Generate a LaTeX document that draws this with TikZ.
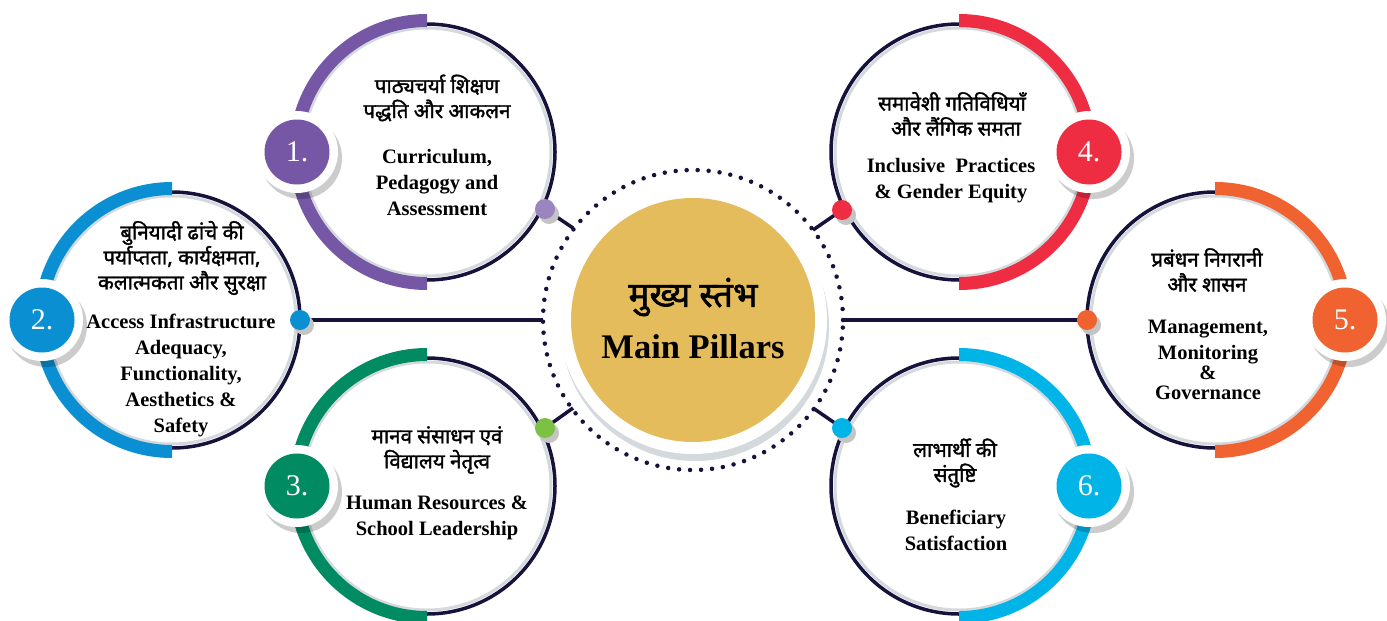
\documentclass[tikz,border=0pt]{standalone}
\usepackage{fontspec}
\setmainfont{Liberation Serif}
\newfontfamily\hi[Script=Devanagari, FakeBold=1.6]{Noto Sans}
\definecolor{navy}{HTML}{17123B}
\definecolor{ringgray}{HTML}{D4D9DE}
\definecolor{cpurple}{HTML}{7557A5}
\definecolor{dpurple}{HTML}{9A85C0}
\definecolor{cblue}{HTML}{0B8FD3}
\definecolor{cgreen}{HTML}{008B63}
\definecolor{dgreen}{HTML}{7CC143}
\definecolor{cred}{HTML}{EE2D43}
\definecolor{corange}{HTML}{F06230}
\definecolor{ccyan}{HTML}{00B4E8}
\definecolor{cgold}{HTML}{E5BC5C}
\definecolor{shadowgray}{HTML}{C4C4C4}
\tikzset{
  ringline/.style={circle, inner sep=0pt, minimum size=256pt, draw=navy, line width=3.5pt},
  conn/.style={draw=navy, line width=3.5pt},
  dotnode/.style={circle, inner sep=0pt, minimum size=20pt, fill=#1},
  hitext/.style={font=\hi\fontsize{20.5}{25}\selectfont, align=center, inner sep=0pt},
  entext/.style={font=\bfseries\fontsize{20.5}{26}\selectfont, align=center, inner sep=0pt},
  numtext/.style={font=\fontsize{30}{30}\selectfont, text=white, inner sep=0pt},
}
% #1 name, #2 cx, #3 cy, #4 colour, #5 side (1 left, -1 right), #6 number
\newcommand\pillarring[6]{%
  \draw[ringgray, line width=3pt] (#2,#3) circle (124);
  \node[ringline] (#1) at (#2,#3) {};
  \begin{scope}
    \clip (#2,#3-150) rectangle (#2-#5*150,#3+150);
    \draw[#4, line width=13pt] (#2,#3) circle (131.5);
  \end{scope}
  \fill[black, opacity=0.2] (#2-#5*130+4,#3+6) circle (41);
  \node[circle, fill=white, inner sep=0pt, minimum size=82pt] (#1w) at (#2-#5*130,#3) {};
  \node[circle, fill=#4, inner sep=0pt, minimum size=65pt] (#1b) at (#2-#5*130,#3) {};
  \node[numtext] (#1n) at (#2-#5*130,#3) {#6.};
}
\newcommand\pillardot[4]{%
  \fill[shadowgray] (#2+4,#3+5) circle (10);
  \node[dotnode=#4] (#1) at (#2,#3) {};
}
\begin{document}
\begin{tikzpicture}[x=1pt, y=-1pt]
\useasboundingbox (0,0) rectangle (1387,621);
\fill[white] (0,0) rectangle (1387,621);

% centre hub
\fill[ringgray] (695,327) circle (134);
\fill[white] (693,320) circle (134);
\node[circle, fill=cgold, inner sep=0pt, minimum size=244pt] (gold) at (693,320) {};
\node[circle, inner sep=0pt, minimum size=300pt, draw=navy, line width=4.5pt, line cap=round, dash pattern=on 0pt off 11pt] (hub) at (693,320) {};

% connector end points on the dotted circle
\coordinate (e1) at (573,228);
\coordinate (e2) at (543,320);
\coordinate (e3) at (573,408);
\coordinate (e4) at (813,230);
\coordinate (e5) at (843,320);
\coordinate (e6) at (813,408);

% pillars
\pillarring{p1}{427}{152}{cpurple}{1}{1}
\pillarring{p2}{172}{320}{cblue}{1}{2}
\pillarring{p3}{427}{486}{cgreen}{1}{3}
\pillarring{p4}{959}{152}{cred}{-1}{4}
\pillarring{p5}{1215}{320}{corange}{-1}{5}
\pillarring{p6}{959}{486}{ccyan}{-1}{6}

% connectors
\coordinate (d1c) at (545,209);
\coordinate (d2c) at (300,320);
\coordinate (d3c) at (545,428);
\coordinate (d4c) at (842,210);
\coordinate (d5c) at (1087,320);
\coordinate (d6c) at (842,428);
\draw[conn] (d1c) -- (e1);
\draw[conn] (d2c) -- (e2);
\draw[conn] (d3c) -- (e3);
\draw[conn] (d4c) -- (e4);
\draw[conn] (d5c) -- (e5);
\draw[conn] (d6c) -- (e6);
\pillardot{d1}{545}{209}{dpurple}
\pillardot{d2}{300}{320}{cblue}
\pillardot{d3}{545}{428}{dgreen}
\pillardot{d4}{842}{210}{cred}
\pillardot{d5}{1087}{320}{corange}
\pillardot{d6}{842}{428}{ccyan}

% texts
\node[hitext] (t1h) at (437,98) {पाठ्यचर्या शिक्षण\\पद्धति और आकलन};
\node[entext] (t1e) at (437,182) {Curriculum,\\Pedagogy and\\Assessment};

\node[hitext] (t2h) at (182,258) {बुनियादी ढांचे की\\पर्याप्तता, कार्यक्षमता,\\कलात्मकता और सुरक्षा};
\node[entext] (t2e) at (181,375) {Access Infrastructure\\Adequacy,\\Functionality,\\Aesthetics \&\\Safety};

\node[hitext] (t3h) at (437,450) {मानव संसाधन एवं\\विद्यालय नेतृत्व};
\node[entext] (t3e) at (437,518) {Human Resources \&\\School Leadership};

\node[hitext] (t4h) at (952,114) {समावेशी गतिविधियाँ\\\hspace*{8pt}और लैंगिक समता};
\node[entext] (t4e) at (951,181) {Inclusive\ \ Practices\\\& Gender Equity};

\node[hitext] (t5h) at (1207,270) {प्रबंधन निगरानी\\और शासन};
\node[entext] (t5e) at (1208,360) {Management,\\Monitoring\\[-6pt]\&\\[-6pt]Governance};

\node[hitext] (t6h) at (955,463) {लाभार्थी की\\संतुष्टि};
\node[entext] (t6e) at (956,530) {Beneficiary\\Satisfaction};

\node[font=\hi\fontsize{35}{40}\selectfont, inner sep=0pt] (ch) at (693,297) {मुख्य स्तंभ};
\node[font=\bfseries\fontsize{34.5}{40}\selectfont, inner sep=0pt] (ce) at (693,347) {Main Pillars};
\end{tikzpicture}
\end{document}
